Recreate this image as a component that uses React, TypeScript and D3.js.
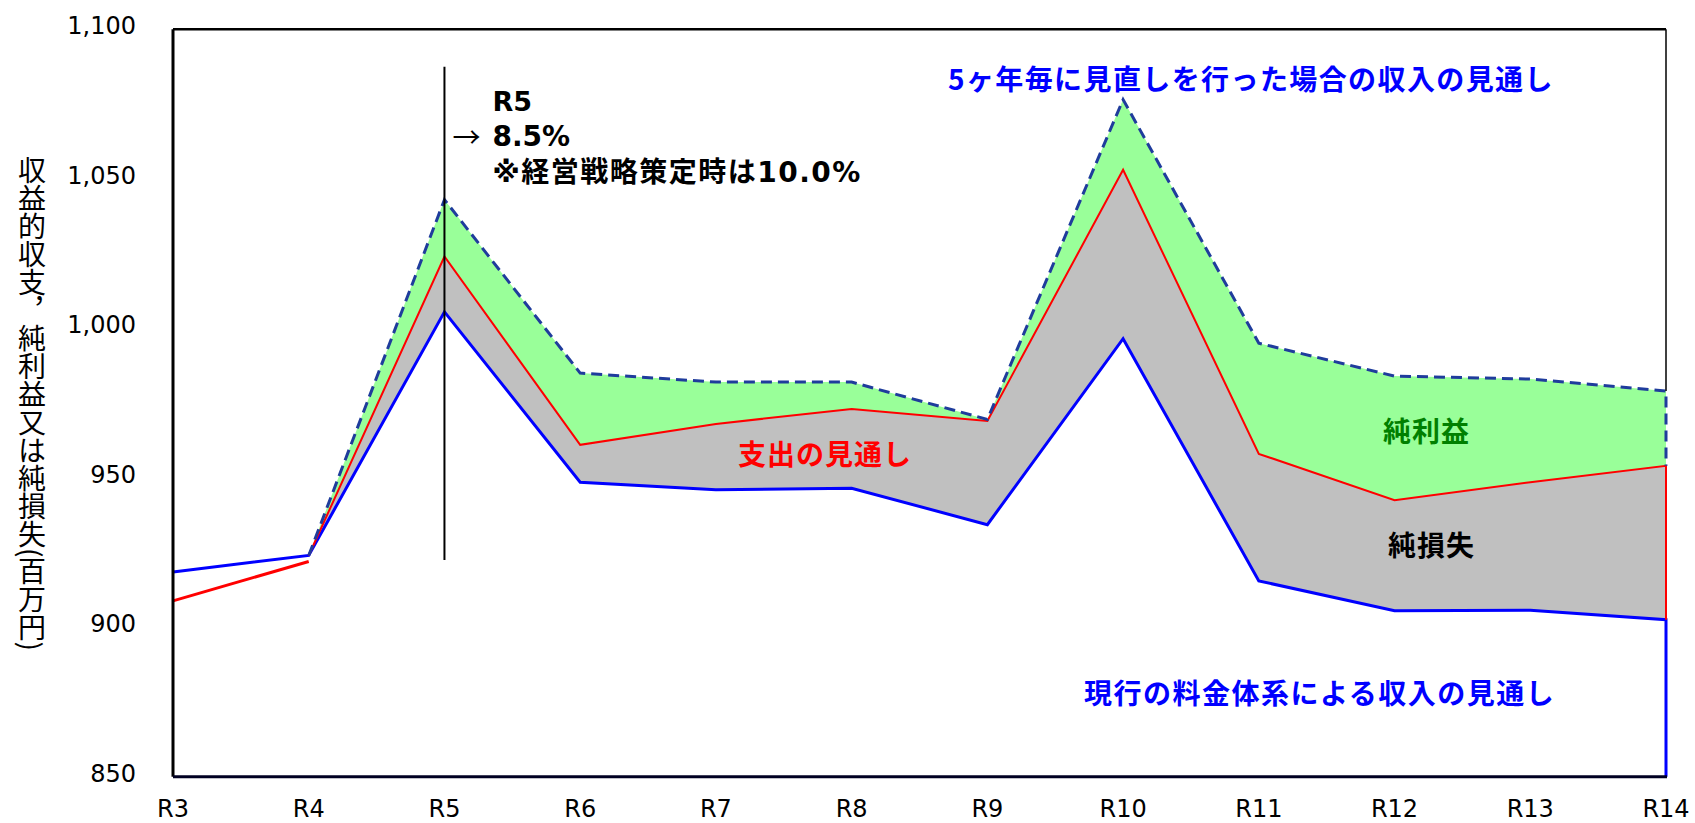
import * as d3 from "d3";

const years = ["R3", "R4", "R5", "R6", "R7", "R8", "R9", "R10", "R11", "R12", "R13", "R14"];
const forecastYears = years.slice(1); // R4..R14
const actualYears = ["R3", "R4"];
const yTicks = [850, 900, 950, 1000, 1050, 1100];

// 現行の料金体系による収入の見通し (R3..R14)
const revenueCurrent = [918.5, 924, 1005.5, 948.5, 946, 946.5, 934.3, 996.5, 915.5, 905.5, 905.7, 902.5];
// 5ヶ年毎に見直しを行った場合の収入の見通し (R4..R14)
const revenueRevised = [924, 1043, 985, 982, 982, 969.5, 1076.5, 995, 984, 983, 979];
// 支出の見通し (R4..R14)
const expenseForecast = [924, 1024, 961, 968, 973, 969, 1053, 958, 942.5, 948.5, 954];
// 支出 実績 (R3..R4)
const expenseActual = [908.8, 922];

const markerYear = "R5";
const markerRange = [922.5, 1087.5];

const W = 1695;
const H = 823;

export default function App() {
  const x = d3.scalePoint<string>().domain(years).range([173, 1666]);
  const y = d3.scaleLinear().domain([850, 1100]).range([776.7, 29.3]);
  const xs = (yr: string) => x(yr) ?? 0;

  const last = years[years.length - 1];
  const lastX = xs(last);

  const line = d3
    .line<[string, number]>()
    .x((d) => xs(d[0]))
    .y((d) => y(d[1]));

  const zipF = (vals: number[]) => forecastYears.map((yr, i) => [yr, vals[i]] as [string, number]);
  const bluePts = years.map((yr, i) => [yr, revenueCurrent[i]] as [string, number]);
  const redPts = zipF(expenseForecast);
  const dashPts = zipF(revenueRevised);
  const redActPts = actualYears.map((yr, i) => [yr, expenseActual[i]] as [string, number]);

  const blueF = revenueCurrent.slice(1);
  const greenArea = d3
    .area<number>()
    .x((_, i) => xs(forecastYears[i]))
    .y0((_, i) => y(expenseForecast[i]))
    .y1((d) => y(d));
  const grayArea = d3
    .area<number>()
    .x((_, i) => xs(forecastYears[i]))
    .y0((d) => y(d))
    .y1((_, i) => y(expenseForecast[i]));

  const lastBlue = revenueCurrent[revenueCurrent.length - 1];
  const lastRed = expenseForecast[expenseForecast.length - 1];
  const lastDash = revenueRevised[revenueRevised.length - 1];

  const jp = "'Noto Sans CJK JP', sans-serif";
  const latin = "'DejaVu Sans', Verdana, sans-serif";
  const mx = xs(markerYear);

  return (
    <svg width={W} height={H} style={{ position: "absolute", left: 0, top: 0, background: "#fff" }}>
      <path d={greenArea(revenueRevised) ?? ""} fill="#99FF99" />
      <path d={grayArea(blueF) ?? ""} fill="#C0C0C0" />

      {/* 現行 収入 */}
      <path
        d={(line(bluePts) ?? "") + `L${lastX},${y(850)}`}
        fill="none"
        stroke="#0000FF"
        strokeWidth={3}
      />
      {/* 支出 */}
      <path d={line(redActPts) ?? ""} fill="none" stroke="#FF0000" strokeWidth={3} />
      <path
        d={(line(redPts) ?? "") + `L${lastX},${y(lastBlue)}`}
        fill="none"
        stroke="#FF0000"
        strokeWidth={2}
      />
      {/* 見直し 収入 */}
      <path
        d={(line(dashPts) ?? "") + `L${lastX},${y(lastRed)}`}
        fill="none"
        stroke="#1F3C9C"
        strokeWidth={3}
        strokeDasharray="11 6"
      />

      {/* frame */}
      <line x1={173} x2={1666} y1={y(1100)} y2={y(1100)} stroke="#000" strokeWidth={2.5} />
      <line x1={lastX} x2={lastX} y1={y(1100)} y2={y(lastDash)} stroke="#000" strokeWidth={1.5} />
      <line x1={173} x2={173} y1={y(1100)} y2={y(850)} stroke="#000" strokeWidth={3} />
      <line x1={173} x2={lastX + 1} y1={y(850)} y2={y(850)} stroke="#000022" strokeWidth={3} />

      {/* R5 marker */}
      <line x1={mx} x2={mx} y1={y(markerRange[1])} y2={y(markerRange[0])} stroke="#000" strokeWidth={2} />
      <text x={mx + 48} y={111} fontFamily={latin} fontWeight="bold" fontSize={27} fill="#000">
        R5
      </text>
      <text x={mx + 8} y={136} fontFamily={jp} fontSize={28} dominantBaseline="central" fill="#000">
        →
      </text>
      <text x={mx + 48} y={146} fontFamily={latin} fontWeight="bold" fontSize={28} fill="#000">
        8.5%
      </text>
      <text
        x={mx + 48}
        y={182}
        fontFamily={`${latin}, ${jp}`}
        fontWeight="bold"
        fontSize={28}
        letterSpacing={1.5}
        fill="#000"
      >
        ※経営戦略策定時は10.0%
      </text>

      {/* series labels */}
      <text x={948} y={78} fontFamily={jp} fontWeight="bold" fontSize={28} letterSpacing={1.4} fill="#0000FF" dominantBaseline="central">
        5ヶ年毎に見直しを行った場合の収入の見通し
      </text>
      <text x={1084} y={692} fontFamily={jp} fontWeight="bold" fontSize={28} letterSpacing={1.5} fill="#0000FF" dominantBaseline="central">
        現行の料金体系による収入の見通し
      </text>
      <text x={738} y={453} fontFamily={jp} fontWeight="bold" fontSize={28} letterSpacing={1} fill="#FF0000" dominantBaseline="central">
        支出の見通し
      </text>
      <text x={1383} y={430} fontFamily={jp} fontWeight="bold" fontSize={28} letterSpacing={1} fill="#008000" dominantBaseline="central">
        純利益
      </text>
      <text x={1388} y={544} fontFamily={jp} fontWeight="bold" fontSize={28} letterSpacing={1} fill="#000" dominantBaseline="central">
        純損失
      </text>

      {/* y ticks */}
      {yTicks.map((t) => (
        <text key={t} x={136} y={y(t) + 5} textAnchor="end" fontFamily={latin} fontSize={24} fill="#000">
          {d3.format(",")(t)}
        </text>
      ))}
      {/* x ticks */}
      {years.map((yr) => (
        <text key={yr} x={xs(yr)} y={817} textAnchor="middle" fontFamily={latin} fontSize={24} fill="#000">
          {yr}
        </text>
      ))}

      {/* y axis title */}
      <text
        x={32}
        y={156}
        fontFamily={jp}
        fontSize={28}
        fill="#000"
        style={{ writingMode: "vertical-rl" }}
      >
        収益的収支，純利益又は純損失(百万円)
      </text>
    </svg>
  );
}
